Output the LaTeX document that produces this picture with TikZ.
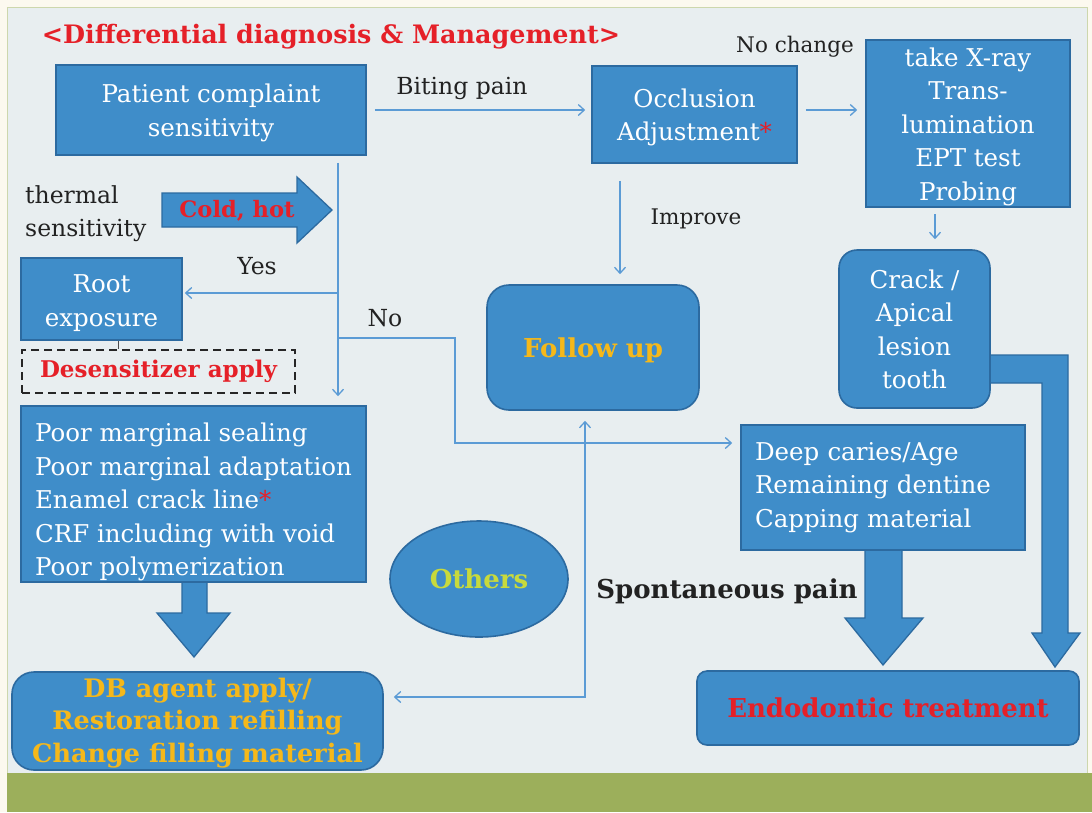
\documentclass[tikz,border=0pt]{standalone}
\usepackage{fontspec}
\setmainfont{DejaVu Serif}
\usetikzlibrary{shapes.geometric,arrows.meta}
\definecolor{boxfill}{HTML}{3F8DC9}
\definecolor{boxedge}{HTML}{2C6AA0}
\definecolor{panelbg}{HTML}{E8EEF0}
\definecolor{creambg}{HTML}{FCF9EF}
\definecolor{bandgreen}{HTML}{9CAF5B}
\definecolor{connblue}{HTML}{5B9BD5}
\definecolor{goldtxt}{HTML}{F5B81A}
\definecolor{limetxt}{HTML}{C8DA3C}
\definecolor{redtxt}{HTML}{E52028}
\definecolor{inktxt}{HTML}{222222}
\newcommand\bodyfont{\fontsize{24.5}{33.5}\selectfont}
\newcommand\labfont{\fontsize{23.5}{33}\selectfont}
\newcommand\smlabfont{\fontsize{21.5}{30}\selectfont}
\newcommand\bldfont{\fontsize{26}{32.5}\selectfont\bfseries}
\tikzset{
  box/.style={draw=boxedge, line width=1.6pt, fill=boxfill, text=white, align=center, inner sep=0pt, font=\bodyfont},
  rbox/.style={box, rounded corners=20pt},
  conn/.style={draw=connblue, line width=1.3pt, -{Straight Barb[length=6pt,width=11pt]}},
  blockarrow/.style={fill=boxfill, draw=boxedge, line width=1.3pt, line join=miter},
  lab/.style={text=inktxt, font=\labfont, inner sep=0pt},
}
\begin{document}
\begin{tikzpicture}[x=1pt,y=-1pt]
% background
\fill[creambg] (0,0) rectangle (1092,812);
\fill[panelbg] (7,7) rectangle (1087,773);
\draw[draw=bandgreen!50, line width=0.8pt] (7,7) rectangle (1087,773);
\fill[bandgreen] (7,773) rectangle (1092,812);
\useasboundingbox (0,0) rectangle (1092,812);

% title
\node[text=redtxt, font=\fontsize{25.4}{30}\selectfont\bfseries, inner sep=0pt] (title) at (331,37) {<Differential diagnosis \& Management>};

% block arrows (drawn under boxes)
\draw[blockarrow] (162,193) -- (297,193) -- (297,177) -- (332,210) -- (297,243) -- (297,227) -- (162,227) -- cycle;
\node[text=redtxt, font=\fontsize{22.6}{26}\selectfont\bfseries, inner sep=0pt] (coldhot) at (237,211) {Cold, hot};
\draw[blockarrow] (182,570) -- (207,570) -- (207,613) -- (230,613) -- (194,657) -- (157,613) -- (182,613) -- cycle;
\draw[blockarrow] (865,540) -- (902,540) -- (902,618) -- (923,618) -- (883,665) -- (845,618) -- (865,618) -- cycle;
\draw[blockarrow] (980,355) -- (1068,355) -- (1068,633) -- (1080,633) -- (1055,667) -- (1032,633) -- (1042,633) -- (1042,383) -- (980,383) -- cycle;

% boxes
\node[box, minimum width=310pt, minimum height=90pt] (patient) at (211,110) {\raisebox{-3pt}[\height][\depth]{\begin{tabular}{@{}c@{}}Patient complaint\\sensitivity\end{tabular}}};
\node[box, minimum width=205pt, minimum height=97pt] (occl) at (694.5,114.5) {\raisebox{-3pt}[\height][\depth]{\begin{tabular}{@{}c@{}}Occlusion\\Adjustment{\color{redtxt}*}\end{tabular}}};
\node[box, minimum width=204pt, minimum height=167pt] (xray) at (968,123.5) {\raisebox{-3pt}[\height][\depth]{\begin{tabular}{@{}c@{}}take X-ray\\Trans-\\lumination\\EPT test\\Probing\end{tabular}}};
\node[rbox, minimum width=151pt, minimum height=158pt, rounded corners=18pt] (crack) at (914.5,329) {\raisebox{-3pt}[\height][\depth]{\begin{tabular}{@{}c@{}}Crack /\\Apical\\lesion\\tooth\end{tabular}}};
\node[rbox, minimum width=212pt, minimum height=125pt, rounded corners=22pt, text=goldtxt, font=\bldfont] (follow) at (593,347.5) {\raisebox{-3pt}[\height][\depth]{Follow up}};
\node[box, minimum width=161pt, minimum height=82pt] (root) at (101.5,299) {\raisebox{-4pt}[\height][\depth]{\begin{tabular}{@{}c@{}}Root\\exposure\end{tabular}}};
\node[draw=black!85, dashed, dash pattern=on 8pt off 5pt, line width=1.6pt, minimum width=273pt, minimum height=43pt, inner sep=0pt, text=redtxt, font=\fontsize{23}{28}\selectfont\bfseries] (desens) at (158.5,371.5) {Desensitizer apply};
\node[box, minimum width=345pt, minimum height=176pt] (poor) at (193.5,494) {\raisebox{-8pt}[\height][\depth]{\begin{tabular}{@{}l@{}}Poor marginal sealing\\Poor marginal adaptation\\Enamel crack line{\color{redtxt}*}\\CRF including with void\\Poor polymerization\end{tabular}}};
\node[rbox, minimum width=371pt, minimum height=98pt, rounded corners=22pt, text=goldtxt, font=\fontsize{25.5}{32.5}\selectfont\bfseries] (db) at (197.5,721) {\raisebox{-2pt}[\height][\depth]{\begin{tabular}{@{}c@{}}DB agent apply/\\Restoration refilling\\Change filling material\end{tabular}}};
\node[ellipse, draw=boxedge, line width=1.6pt, fill=boxfill, minimum width=178pt, minimum height=116pt, inner sep=0pt, text=limetxt, font=\bldfont] (others) at (479,579) {Others};
\node[box, minimum width=284pt, minimum height=125pt, text width=256pt, align=left] (deep) at (883,487.5) {Deep caries/Age\\Remaining dentine\\Capping material};
\node[rbox, minimum width=382pt, minimum height=74pt, rounded corners=10pt, text=redtxt, font=\bldfont] (endo) at (888,708) {Endodontic treatment};

% labels
\node[lab] (biting) at (462,88) {Biting pain};
\node[lab, font=\smlabfont] (nochange) at (795,47) {No change};
\node[lab, font=\smlabfont] (improve) at (696,219) {Improve};
\node[lab, align=left, anchor=west] (thermal) at (25,214) {thermal\\sensitivity};
\node[lab] (yes) at (257,266) {Yes};
\node[lab] (no) at (385,318) {No};
\node[text=inktxt, font=\bldfont, inner sep=0pt] (spont) at (727,591) {Spontaneous pain};

% connectors
\coordinate (yesj) at (338,293);
\coordinate (noj) at (338,338);
\coordinate (nobend) at (455,338);
\coordinate (dbj) at (585,697);
\draw[conn] ([xshift=8pt]patient.east) -- ([xshift=-6pt]patient.east -| occl.west);
\draw[conn] ([xshift=8pt]patient.east -| occl.east) -- ([xshift=-8pt]patient.east -| xray.west);
\draw[conn] ([yshift=-6pt]xray.south -| 935,0) -- ([yshift=10pt]crack.north -| 935,0);
\draw[conn] ([yshift=-17pt]occl.south -| 620,0) -- ([yshift=10pt]follow.north -| 620,0);
\draw[conn] ([yshift=-7pt]patient.south -| yesj) -- ([yshift=9pt]poor.north -| yesj);
\draw[conn] (yesj) -- ([xshift=2pt]root.east |- yesj);
\draw[conn] (noj) -- (nobend) |- ([xshift=-8pt]deep.west |- 0,443);
\draw[draw=black!70, line width=1pt] (root.south -| 118,0) -- (desens.north -| 118,0);
\draw[conn, {Straight Barb[length=6pt,width=11pt]}-{Straight Barb[length=6pt,width=11pt]}] ([xshift=10pt]db.east |- dbj) -| ([yshift=-10pt]follow.south -| dbj);
\end{tikzpicture}
\end{document}
